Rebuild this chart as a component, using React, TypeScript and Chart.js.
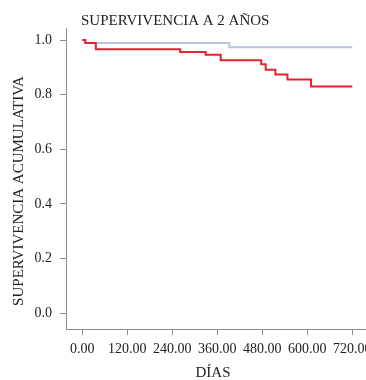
import React, { useEffect, useRef } from 'react';
import { Chart, registerables } from 'chart.js';

Chart.register(...registerables);

// Kaplan–Meier style survival data (days, cumulative survival)
const redDays = [0, 8, 36, 261, 329, 369, 477, 489, 515, 547, 610, 720];
const redSurv = [1.0, 0.989, 0.966, 0.956, 0.946, 0.926, 0.911, 0.891, 0.874, 0.856, 0.83, 0.83];
const blueDays = [0, 8, 392, 720];
const blueSurv = [1.0, 0.989, 0.974, 0.974];

const xTickValues = [0, 120, 240, 360, 480, 600, 720];
const yTickValues = [0, 0.2, 0.4, 0.6, 0.8, 1.0];

const chartTitle = 'SUPERVIVENCIA A 2 AÑOS';
const xAxisTitle = 'DÍAS';
const yAxisTitle = 'SUPERVIVENCIA ACUMULATIVA';

const FONT = '"Liberation Serif", "DejaVu Serif", serif';
const AXIS_COLOR = '#8c8c8c';
const TEXT_COLOR = '#222222';
const RED = '#e1232b';
const BLUE = '#b3c6dc';

const textPlugin = {
  id: 'customTexts',
  afterDraw(chart: any) {
    const ctx = chart.ctx as CanvasRenderingContext2D;
    ctx.save();
    ctx.fillStyle = TEXT_COLOR;
    ctx.font = `15px ${FONT}`;
    ctx.textBaseline = 'alphabetic';
    ctx.textAlign = 'left';
    ctx.fillText(chartTitle, 81, 25);
    ctx.textAlign = 'center';
    ctx.fillText(xAxisTitle, 213, 377);
    ctx.translate(23, 191);
    ctx.rotate(-Math.PI / 2);
    ctx.fillText(yAxisTitle, 0, 0);
    ctx.restore();
  },
};

export default function App() {
  const canvasRef = useRef<HTMLCanvasElement | null>(null);

  useEffect(() => {
    document.body.style.margin = '0';
    const canvas = canvasRef.current;
    if (!canvas) return;
    const chart = new Chart(canvas, {
      type: 'line',
      data: {
        datasets: [
          {
            label: 'rojo',
            data: redDays.map((d, i) => ({ x: d, y: redSurv[i] })),
            borderColor: RED,
            borderWidth: 2,
            pointRadius: 0,
            stepped: true,
            fill: false,
          },
          {
            label: 'azul',
            data: blueDays.map((d, i) => ({ x: d, y: blueSurv[i] })),
            borderColor: BLUE,
            borderWidth: 2,
            pointRadius: 0,
            stepped: true,
            fill: false,
          },
        ],
      },
      options: {
        responsive: false,
        animation: false,
        devicePixelRatio: 1,
        layout: { padding: { top: 28, left: 0, right: 0, bottom: 0 } },
        plugins: {
          legend: { display: false },
          tooltip: { enabled: false },
          title: { display: false },
        },
        scales: {
          x: {
            type: 'linear',
            min: -43.5,
            max: 756.5,
            afterBuildTicks: (s: any) => {
              s.ticks = xTickValues.map((v) => ({ value: v }));
            },
            afterFit: (s: any) => {
              s.height = 51;
              s.paddingLeft = 0;
              s.paddingRight = 0;
            },
            grid: { drawOnChartArea: false, drawTicks: true, tickLength: 6, color: AXIS_COLOR },
            border: { display: true, color: AXIS_COLOR, width: 1 },
            ticks: {
              autoSkip: false,
              maxRotation: 0,
              padding: 6,
              color: TEXT_COLOR,
              font: { family: FONT, size: 14 },
              callback: (v: any) => Number(v).toFixed(2),
            },
          },
          y: {
            type: 'linear',
            min: -0.0574,
            max: 1.044,
            afterBuildTicks: (s: any) => {
              s.ticks = yTickValues.map((v) => ({ value: v }));
            },
            afterFit: (s: any) => {
              s.width = 66;
              s.paddingTop = 0;
              s.paddingBottom = 0;
            },
            grid: { drawOnChartArea: false, drawTicks: true, tickLength: 6, color: AXIS_COLOR },
            border: { display: true, color: AXIS_COLOR, width: 1 },
            ticks: {
              autoSkip: false,
              padding: 8,
              color: TEXT_COLOR,
              font: { family: FONT, size: 14 },
              callback: (v: any) => Number(v).toFixed(1),
            },
          },
        },
      },
      plugins: [textPlugin],
    });
    return () => chart.destroy();
  }, []);

  return <canvas ref={canvasRef} width={366} height={380} style={{ display: 'block', width: 366, height: 380 }} />;
}
